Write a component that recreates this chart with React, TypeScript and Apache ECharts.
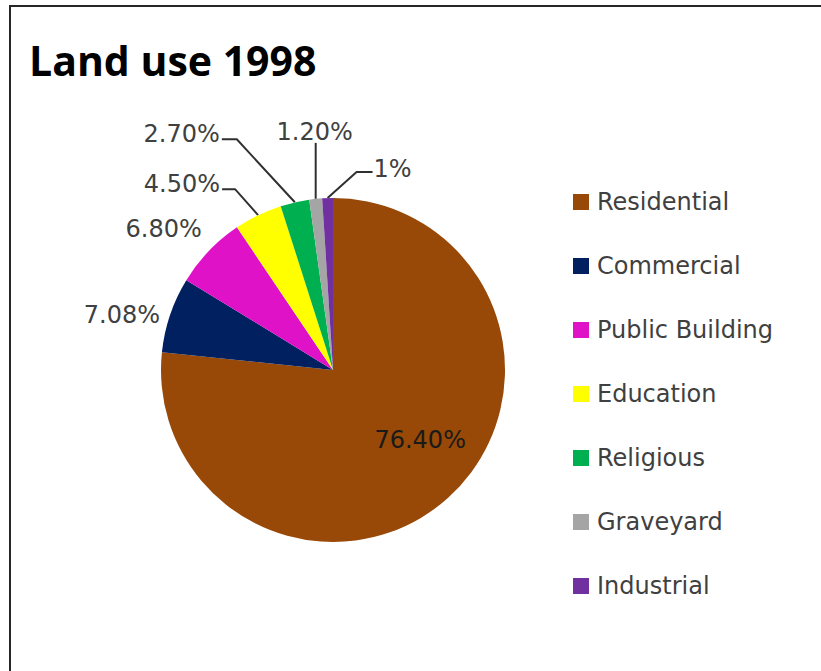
import React, { useEffect, useRef } from "react";
import * as echarts from "echarts";

const categories = [
  "Residential",
  "Commercial",
  "Public Building",
  "Education",
  "Religious",
  "Graveyard",
  "Industrial",
];
const shares = [76.4, 7.08, 6.8, 4.5, 2.7, 1.2, 1];
const shareLabels = ["76.40%", "7.08%", "6.80%", "4.50%", "2.70%", "1.20%", "1%"];
const colors = ["#984807", "#002060", "#E012C8", "#FFFF00", "#00B050", "#A5A5A5", "#7030A0"];

const CX = 333;
const CY = 370;
const R = 172;
const LABEL_FONT = "'DejaVu Sans', Verdana, sans-serif";

// label placement relative to the slice's outer edge point at its mid angle
const labelPlacement: { dx: number; dy: number; align: string; line: number[][] | null }[] = [
  { dx: -28, dy: -58, align: "center", line: null },
  { dx: -10, dy: 0, align: "right", line: null },
  { dx: -7, dy: -22, align: "right", line: null },
  { dx: -38, dy: -31, align: "right", line: [[-23, -26], [-36, -26]] },
  { dx: -75, dy: -68, align: "right", line: [[-58, -63], [-73, -63]] },
  { dx: -1, dy: -67, align: "center", line: [[0, -56], [0, -56]] },
  { dx: 46, dy: -29, align: "left", line: [[29, -26], [45, -26]] },
];

function edgePoint(i: number): number[] {
  const total = shares.reduce((a, b) => a + b, 0);
  let before = 0;
  for (let k = 0; k < i; k++) before += shares[k];
  const mid = ((before + shares[i] / 2) / total) * Math.PI * 2;
  return [CX + R * Math.sin(mid), CY - R * Math.cos(mid)];
}

export default function App() {
  const ref = useRef<HTMLDivElement>(null);
  useEffect(() => {
    if (!ref.current) return;
    const chart = echarts.init(ref.current, undefined, { renderer: "svg" });
    const data = categories.map((name, i) => {
      const item: any = { name, value: shares[i], itemStyle: { color: colors[i] } };
      if (i === 0) {
        item.label = { position: "inside", color: "#1a1a1a" };
        item.labelLine = { show: false };
      } else if (!labelPlacement[i].line) {
        item.labelLine = { show: false };
      }
      return item;
    });
    chart.setOption({
      animation: false,
      backgroundColor: "#ffffff",
      title: {
        text: "Land use 1998",
        left: 24,
        top: 34,
        textStyle: {
          fontFamily: "'Open Sans', sans-serif",
          fontWeight: "bold",
          fontSize: 41,
          color: "#000000",
        },
      },
      legend: {
        orient: "vertical",
        left: 573,
        top: 190,
        padding: 0,
        itemWidth: 16,
        itemHeight: 16,
        itemGap: 40,
        icon: "rect",
        data: categories,
        textStyle: {
          fontFamily: LABEL_FONT,
          fontSize: 24,
          lineHeight: 24,
          color: "#404040",
          padding: [0, 0, 0, 3],
        },
      },
      graphic: [
        {
          type: "rect",
          shape: { x: 10, y: 6, width: 900, height: 800 },
          style: { fill: "none", stroke: "#262626", lineWidth: 2 },
          silent: true,
        },
      ],
      series: [
        {
          type: "pie",
          center: [CX, CY],
          radius: R,
          startAngle: 90,
          clockwise: true,
          avoidLabelOverlap: false,
          itemStyle: { borderWidth: 0 },
          label: {
            show: true,
            position: "outside",
            formatter: (p: any) => shareLabels[p.dataIndex],
            fontFamily: LABEL_FONT,
            fontSize: 24,
            color: "#404040",
          },
          labelLine: {
            show: true,
            length: 10,
            length2: 10,
            smooth: false,
            lineStyle: { color: "#303030", width: 2 },
          },
          labelLayout: (params: any) => {
            const i = params.dataIndex;
            const pl = labelPlacement[i];
            const e = edgePoint(i);
            const res: any = {
              x: e[0] + pl.dx,
              y: e[1] + pl.dy,
              align: pl.align,
              verticalAlign: "middle",
            };
            if (pl.line) {
              res.labelLinePoints = [
                [e[0], e[1]],
                [e[0] + pl.line[0][0], e[1] + pl.line[0][1]],
                [e[0] + pl.line[1][0], e[1] + pl.line[1][1]],
              ];
            }
            return res;
          },
          data,
        },
      ],
    });
    return () => chart.dispose();
  }, []);
  return (
    <div
      ref={ref}
      style={{ position: "fixed", left: 0, top: 0, width: 821, height: 671, background: "#fff" }}
    />
  );
}
